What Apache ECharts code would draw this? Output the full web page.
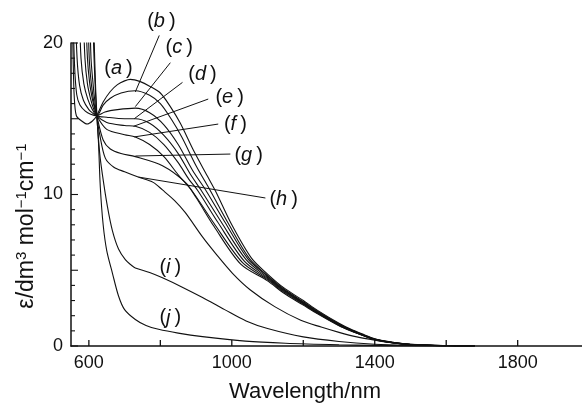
<!DOCTYPE html>
<html>
<head>
<meta charset="utf-8">
<script src="https://cdn.jsdelivr.net/npm/echarts@6/dist/echarts.min.js"></script>
<style>
  html, body { margin: 0; padding: 0; background: #fff; }
  #chart { width: 582px; height: 404px; }
</style>
</head>
<body>
<div id="chart"></div>
<script>
// spectra (a)..(j): [wavelength nm, epsilon]
const curveA = [[550,30],[553,23],[556,19],[559,16.5],[565,15.2],[580,14.85],[595,14.65],[610,14.85],[622,15.2],[640,16.1],[660,16.8],[680,17.25],[700,17.5],[716,17.6],[744,17.45],[770,17.15],[800,16.7],[828,15.8],[856,14.7],[893,12.9],[932,11.2],[955,10.2],[1000,8.0],[1055,5.8],[1100,4.75],[1145,3.85],[1200,3.0],[1240,2.35],[1300,1.5],[1332,1.12],[1370,0.75],[1400,0.48],[1450,0.25],[1500,0.12],[1550,0.05],[1600,0.02],[1680,0]]
const curveB = [[552,30],[556,22],[560,18.5],[566,16.6],[575,15.9],[590,15.5],[605,15.3],[622,15.2],[640,15.9],[660,16.35],[690,16.7],[730,16.85],[770,16.55],[800,16.0],[830,15.0],[860,13.8],[900,11.9],[940,10.25],[990,8.1],[1050,5.75],[1100,4.65],[1145,3.78],[1200,2.92],[1240,2.3],[1300,1.46],[1332,1.09],[1370,0.72],[1400,0.46],[1450,0.24],[1500,0.11],[1600,0.02],[1680,0]]
const curveC = [[560,30],[563,22],[567,19],[574,17.2],[585,16.2],[600,15.6],[612,15.35],[622,15.2],[645,15.45],[680,15.6],[730,15.7],[770,15.4],[810,14.6],[850,13.3],[890,11.6],[928,10.25],[980,8.2],[1045,5.75],[1100,4.6],[1145,3.72],[1200,2.88],[1240,2.26],[1300,1.43],[1332,1.07],[1370,0.7],[1400,0.45],[1450,0.23],[1500,0.1],[1600,0.02],[1680,0]]
const curveD = [[570,30],[574,22],[578,19],[586,17.3],[597,16.3],[610,15.6],[622,15.2],[650,15.1],[700,15.0],[730,15.0],[770,14.7],[810,13.9],[850,12.7],[885,11.3],[915,10.25],[970,8.2],[1040,5.7],[1100,4.52],[1145,3.68],[1200,2.84],[1240,2.22],[1300,1.4],[1332,1.05],[1370,0.69],[1400,0.44],[1450,0.22],[1500,0.1],[1600,0.02],[1680,0]]
const curveE = [[581,30],[585,22],[589,19],[596,17.3],[605,16.3],[614,15.6],[622,15.2],[650,14.75],[700,14.55],[730,14.5],[770,14.1],[810,13.3],[850,12.1],[880,11.0],[905,10.25],[960,8.2],[1035,5.6],[1100,4.45],[1145,3.62],[1200,2.8],[1240,2.19],[1300,1.38],[1332,1.03],[1370,0.68],[1400,0.43],[1450,0.22],[1500,0.1],[1600,0.02],[1680,0]]
const curveF = [[589,30],[592,22],[596,19],[602,17.4],[609,16.4],[616,15.7],[622,15.2],[650,14.3],[700,13.95],[730,13.8],[770,13.3],[810,12.5],[850,11.3],[890,10.2],[950,8.1],[1030,5.5],[1100,4.38],[1145,3.57],[1200,2.76],[1240,2.16],[1300,1.36],[1332,1.02],[1370,0.67],[1400,0.42],[1450,0.21],[1500,0.09],[1600,0.02],[1680,0]]
const curveG = [[595,30],[598,22],[601,19],[606,17.5],[612,16.4],[617,15.7],[622,15.2],[640,13.6],[660,13.0],[690,12.7],[730,12.5],[806,11.9],[870,10.8],[900,9.8],[950,7.9],[1025,5.4],[1100,4.3],[1145,3.5],[1200,2.7],[1240,2.12],[1300,1.33],[1332,1.0],[1370,0.66],[1400,0.41],[1450,0.21],[1500,0.09],[1600,0.02],[1680,0]]
const curveH = [[600,30],[603,22],[606,19],[611,17.5],[616,16.3],[622,15.2],[630,14.0],[646,12.4],[670,11.8],[700,11.5],[738,11.15],[780,10.8],[806,10.3],[840,9.6],[870,8.8],[918,7.2],[955,6.1],[1002,4.8],[1052,3.7],[1120,2.6],[1193,1.7],[1250,1.25],[1300,0.9],[1350,0.6],[1400,0.38],[1450,0.2],[1500,0.1],[1600,0.02],[1680,0]]
const curveI = [[606,30],[612,21],[617,17.5],[622,15.3],[630,12.8],[638,11.3],[652,9.2],[666,7.6],[683,6.4],[702,5.7],[718,5.35],[730,5.15],[770,4.85],[806,4.5],[860,3.9],[918,3.2],[980,2.4],[1040,1.65],[1100,1.15],[1200,0.6],[1300,0.3],[1400,0.12],[1500,0.04],[1600,0]]
const curveJ = [[608,30],[614,21],[619,17],[623,15],[627,13.4],[632,10.5],[640,8.0],[650,6.3],[666,4.8],[683,3.3],[700,2.4],[730,1.75],[760,1.35],[795,1.1],[850,0.85],[918,0.62],[1038,0.32],[1150,0.18],[1300,0.08],[1400,0.04],[1600,0]]

const curves = [curveA, curveB, curveC, curveD, curveE, curveF, curveG, curveH, curveI, curveJ]
const curveNames = ['a', 'b', 'c', 'd', 'e', 'f', 'g', 'h', 'i', 'j']

const xTicks = [600, 800, 1000, 1200, 1400, 1600, 1800]
const xLabels = [600, 1000, 1400, 1800]
const yLabels = [0, 10, 20]
const yMajorTicks = [0, 5, 10, 15, 20]
const yMinorTicks = [1, 2, 3, 4, 6, 7, 8, 9, 11, 12, 13, 14, 16, 17, 18, 19]

// where the curve labels sit and where their leader lines point (data units)
const labelAt = [[683,18.35],[803,21.4],[853,19.7],[918,17.95],[994,16.4],[1010,14.65],[1047,12.6],[1145,9.7],[828,5.2],[828,1.85]]
const leaderFrom = [null,[797,20.5],[828,18.7],[862,17.4],[934,16.3],[962,14.65],[996,12.67],[1094,9.77],null,null]
const leaderTo = [null,[730,16.77],[730,15.8],[727,15.0],[725,14.5],[727,13.8],[730,12.54],[739,11.15],null,null]

const font = 'Liberation Sans, Arial, sans-serif'
const ink = '#111'

const chart = echarts.init(document.getElementById('chart'))

chart.setOption({
  animation: false,
  backgroundColor: '#fff',
  grid: { left: 71, right: 0, top: 43, bottom: 58 },
  xAxis: {
    type: 'value',
    min: 550,
    max: 1980,
    axisLine: { lineStyle: { color: ink, width: 1.5 } },
    axisTick: { show: false },
    axisLabel: { customValues: xLabels, margin: 8, color: ink, fontSize: 18, fontFamily: font, formatter: v => String(v) },
    splitLine: { show: false }
  },
  yAxis: {
    type: 'value',
    min: 0,
    max: 20,
    interval: 5,
    axisLine: { show: true, lineStyle: { color: ink, width: 1.5 } },
    axisTick: { show: false },
    axisLabel: { customValues: yLabels, margin: 8, color: ink, fontSize: 18, fontFamily: font },
    splitLine: { show: false }
  },
  series: curves.map((c, i) => ({
    name: curveNames[i],
    type: 'line',
    data: c,
    showSymbol: false,
    smooth: 0.3,
    clip: true,
    lineStyle: { color: ink, width: 1.1 }
  }))
})

const gfx = []
const toPx = v => chart.convertToPixel({ gridIndex: 0 }, v)

// inward ticks, positioned through the axes' scales
xTicks.forEach(v => {
  const p = toPx([v, 0])
  gfx.push({ type: 'line', shape: { x1: p[0], y1: p[1], x2: p[0], y2: p[1] - 6 }, style: { stroke: ink, lineWidth: 1.3 } })
})
yMajorTicks.concat(yMinorTicks).forEach(v => {
  const p = toPx([550, v])
  const len = yMajorTicks.includes(v) ? 7 : 4
  gfx.push({ type: 'line', shape: { x1: p[0], y1: p[1], x2: p[0] + len, y2: p[1] }, style: { stroke: ink, lineWidth: 1.1 } })
})

// curve labels and leader lines
curveNames.forEach((n, i) => {
  const p = toPx(labelAt[i])
  gfx.push({
    type: 'text',
    x: p[0], y: p[1],
    style: {
      text: '{p|(}{t|' + n + '}{p|\u2009)}',
      align: 'center', verticalAlign: 'middle',
      rich: {
        p: { fontSize: 20, fontFamily: font, fill: ink },
        t: { fontSize: 20, fontFamily: font, fontStyle: 'italic', fill: ink }
      }
    }
  })
  if (leaderFrom[i]) {
    const a = toPx(leaderFrom[i])
    const b = toPx(leaderTo[i])
    gfx.push({
      type: 'line',
      shape: { x1: a[0], y1: a[1], x2: b[0], y2: b[1] },
      style: { stroke: ink, lineWidth: 1 }
    })
  }
})

// axis titles
gfx.push({
  type: 'text',
  x: 305, y: 392,
  style: { text: 'Wavelength/nm', align: 'center', verticalAlign: 'middle', fontSize: 22, fontFamily: font, fill: ink }
})
gfx.push({
  type: 'text',
  x: 27, y: 226,
  rotation: Math.PI / 2,
  style: {
    text: '{m|ε/dm}{s|3}{m| mol}{s|−1}{m|cm}{s|−1}',
    align: 'center', verticalAlign: 'middle',
    rich: {
      m: { fontSize: 23, fontFamily: font, fill: ink, lineHeight: 26 },
      s: { fontSize: 15, fontFamily: font, fill: ink, verticalAlign: 'top', lineHeight: 26 }
    }
  }
})

chart.setOption({ graphic: gfx })
</script>
</body>
</html>
